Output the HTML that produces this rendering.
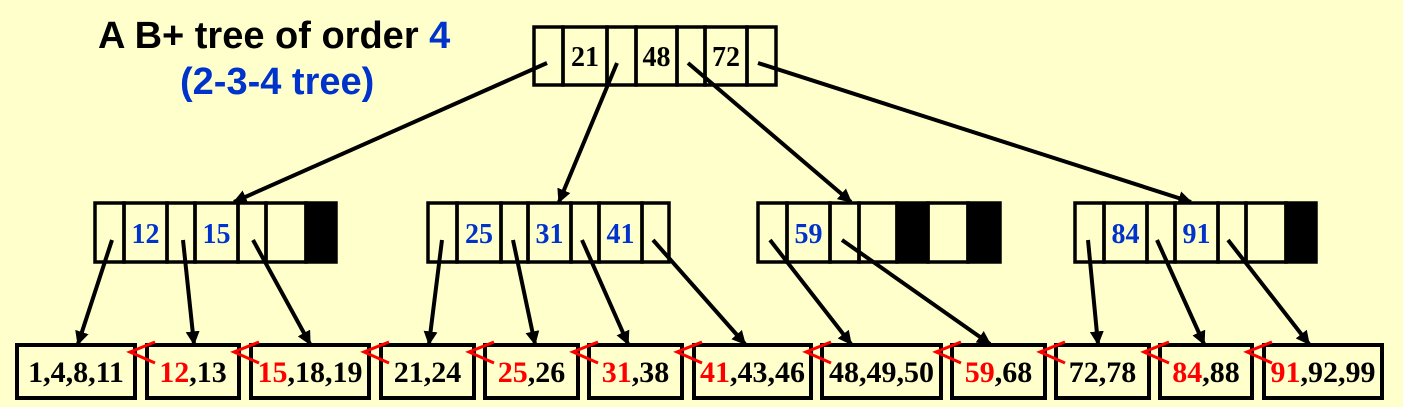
<!DOCTYPE html>
<html><head><meta charset="utf-8"><style>
html,body{margin:0;padding:0;background:#ffffcc;}
svg{display:block;}
.k{font-family:"Liberation Serif",serif;font-weight:bold;font-size:28px;}
.l{font-family:"Liberation Serif",serif;font-weight:bold;font-size:30px;}
.t{font-family:"Liberation Sans",sans-serif;font-weight:bold;font-size:38px;}
</style></head><body>
<svg id="chart" width="1403" height="407" viewBox="0 0 1403 407" xmlns="http://www.w3.org/2000/svg">
<defs><marker id="ah" viewBox="0 0 10 10" refX="9" refY="5" markerWidth="3.5" markerHeight="3.5" orient="auto"><path d="M0,0 L10,5 L0,10 z" fill="#000"/></marker></defs>
<rect width="1403" height="407" fill="#ffffcc"/>
<text class="t" x="98" y="48">A B+ tree of order <tspan fill="#0033cc">4</tspan></text>
<text class="t" x="180" y="94" fill="#0033cc">(2-3-4 tree)</text>
<g id="g"></g>
</svg>
<script>
const rootKeys=["21","48","72"];
const internalKeys=[["12","15",""],["25","31","41"],["59","",""],["84","91",""]];
const leafFirst=["1","12","15","21","25","31","41","48","59","72","84","91"];
const leafRest=[",4,8,11",",13",",18,19",",24",",26",",38",",43,46",",49,50",",68",",78",",88",",92,99"];
const leafFirstRed=[false,true,true,false,true,true,true,false,true,false,true,true];
const NS="http://www.w3.org/2000/svg";
const g=document.getElementById('g');
function mk(tag,attrs,parent){const e=document.createElementNS(NS,tag);for(const k in attrs)e.setAttribute(k,attrs[k]);(parent||g).appendChild(e);return e;}
function node(xs,y0,y1,keys,color,blacks,name){
  const grp=mk('g',{});
  
  
  for(let i=0;i<xs.length-1;i++){
    const isBlack=blacks.includes(i);
    const r=mk('rect',{x:xs[i],y:y0,width:xs[i+1]-xs[i],height:y1-y0,fill:isBlack?'#000':'none',stroke:'#000','stroke-width':3.5},grp);
    
    
    if(i%2==1){const key=keys[(i-1)/2];if(key){const t=mk('text',{x:(xs[i]+xs[i+1])/2,y:y1-19,'text-anchor':'middle',fill:color,class:'k'},grp);t.textContent=key;
      
      }}
  }
}
node([534,563,607,636,677,705,747,776],27,85,rootKeys,'#000',[],'root-node');
const inodes=[[95,124,167,195,238,266,306,336],[428,457,501,528,571,599,642,669],[758,787,830,859,897,928,968,1000],[1075,1104,1147,1175,1218,1246,1286,1316]];
const iblacks=[[6],[],[4,6],[6]];
inodes.forEach((xs,i)=>node(xs,203,262,internalKeys[i],'#0033cc',iblacks[i],'internal-node-'+(i+1)));
const lx=[[17,135],[147,239],[251,369],[381,474],[485,578],[589,682],[694,811],[822,941],[952,1045],[1056,1149],[1160,1252],[1264,1382]];
lx.forEach((p,i)=>{
  const r=mk('rect',{x:p[0],y:345,width:p[1]-p[0],height:53,fill:'none',stroke:'#000','stroke-width':4});
  
  
  const t=mk('text',{x:(p[0]+p[1])/2,y:382,'text-anchor':'middle',class:'l'});
  
  
  const a=mk('tspan',{fill:leafFirstRed[i]?'#ff0000':'#000'},t);a.textContent=leafFirst[i];
  const b=mk('tspan',{fill:'#000'},t);b.textContent=leafRest[i];
  if(i>0){
    const ap=lx[i-1][1]-5;
    const s=mk('polyline',{points:`${ap+25},342 ${ap},352 ${ap+25},363`,fill:'none',stroke:'#ff0000','stroke-width':3});
    
    
  }
});
const arrows=[[547,63,234,202],[617,63,559,202],[688,63,851,202],[758,63,1191,202],
[112,240,78,344],[183,240,194,344],[253,240,310,344],
[442,240,429,344],[513,240,535,344],[582,240,628,344],[653,240,745,344],
[770,240,851,344],[842,240,990,344],
[1088,240,1098,344],[1157,240,1204,344],[1228,240,1309,344]];
arrows.forEach(a=>{
  const l=mk('line',{x1:a[0],y1:a[1],x2:a[2],y2:a[3],stroke:'#000','stroke-width':4,'marker-end':'url(#ah)'});
  
  
});
</script>
</body></html>
